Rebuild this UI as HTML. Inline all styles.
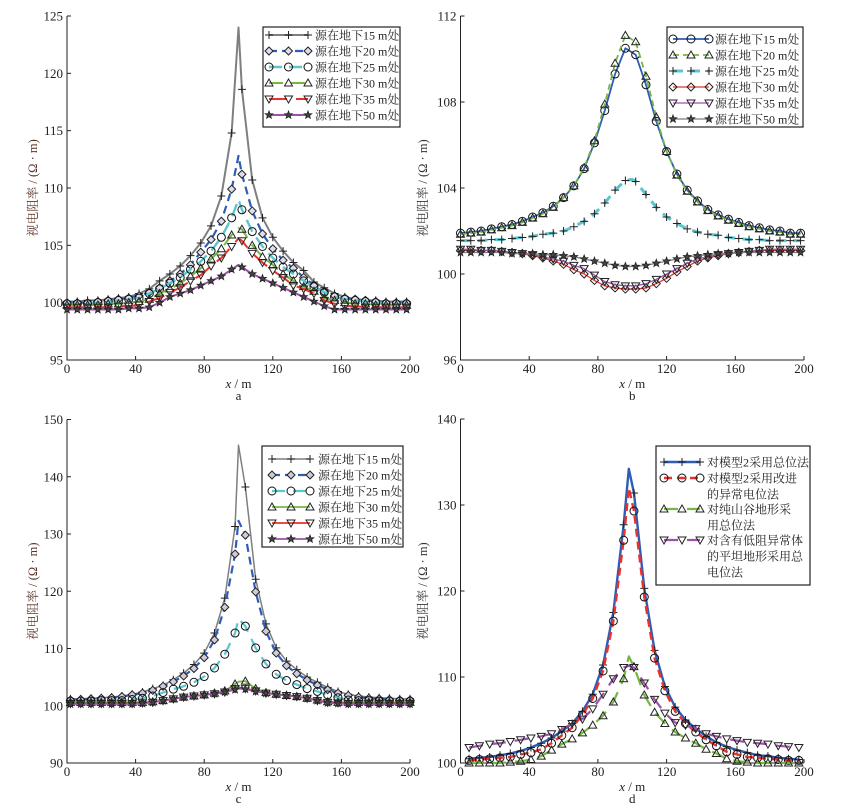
<!DOCTYPE html>
<html><head><meta charset="utf-8">
<style>
html,body{margin:0;padding:0;background:#fff;}
svg{display:block;}
text{font-family:"Liberation Serif","Noto Serif CJK SC",serif;}
</style></head>
<body>
<svg id="fig" width="845" height="809" viewBox="0 0 845 809" xmlns="http://www.w3.org/2000/svg"></svg>
<script>
// ---------- data ----------
const xA = [0,6,12,18,24,30,36,42,48,54,60,66,72,78,84,90,96,100,102,108,114,120,126,132,138,144,150,156,162,168,174,180,186,192,198];
const xB = xA;
const xC = [2,8,14,20,26,32,38,44,50,56,62,68,74,80,86,92,98,100,104,110,116,122,128,134,140,146,152,158,164,170,176,182,188,194,200];
const xD = [5,11,17,23,29,35,41,47,53,59,65,71,77,83,89,95,98,101,107,113,119,125,131,137,143,149,155,161,167,173,179,185,191,197];
const peakIdxABC = 17, peakIdxD = 16;

const labelsABC = ["源在地下15 m处","源在地下20 m处","源在地下25 m处","源在地下30 m处","源在地下35 m处","源在地下50 m处"];
const labelsD = [["对模型2采用总位法"],["对模型2采用改进","的异常电位法"],["对纯山谷地形采","用总位法"],["对含有低阻异常体","的平坦地形采用总","电位法"]];

const a15 = [100.1,100.1,100.2,100.2,100.3,100.4,100.5,100.8,101.2,101.9,102.5,103.2,104.1,105.2,106.7,109.3,114.8,124,118.6,110.7,107.4,105.7,104.5,103.5,102.8,101.8,101.3,100.8,100.5,100.3,100.2,100.2,100.1,100.1,100.1];
const a20 = [100.0,100.0,100.0,100.1,100.2,100.3,100.4,100.6,100.9,101.3,101.9,102.5,103.3,104.4,105.5,107.1,109.9,112.8,111.2,108,106,104.7,103.7,103,102.2,101.5,100.9,100.6,100.4,100.3,100.2,100.1,100.0,100.0,100.0];
const a25 = [99.9,99.9,99.9,100.0,100.1,100.2,100.3,100.4,100.8,101.2,101.7,102.2,102.9,103.6,104.5,105.7,107.4,109,108.1,106.2,104.9,103.9,103.1,102.5,101.9,101.4,100.9,100.5,100.3,100.2,100.1,100.0,99.9,99.9,99.9];
const a30 = [99.8,99.8,99.8,99.8,99.9,99.9,100.0,100.1,100.3,100.8,101.2,101.7,102.3,103.0,103.8,104.7,105.9,106.5,106.4,105.0,104.0,103.3,102.5,101.9,101.4,101.0,100.4,100.2,100.0,99.9,99.9,99.8,99.8,99.8,99.8];
const a35 = [99.6,99.6,99.6,99.6,99.6,99.7,99.7,99.8,100.1,100.4,100.9,101.3,101.9,102.4,103.2,103.9,104.9,105.6,105.4,104.3,103.5,102.8,102.2,101.5,101.2,100.8,100.2,99.9,99.7,99.7,99.6,99.6,99.6,99.6,99.6];
const a50 = [99.4,99.4,99.4,99.4,99.4,99.4,99.5,99.5,99.6,100.0,100.5,100.8,101.1,101.5,101.9,102.3,102.9,103.3,103.1,102.5,102.1,101.7,101.3,100.9,100.5,100.1,99.7,99.4,99.4,99.4,99.4,99.4,99.4,99.4,99.4];

const b15 = [101.9,101.95,102.0,102.1,102.2,102.3,102.45,102.65,102.85,103.15,103.55,104.1,104.9,106.1,107.6,109.3,110.5,110.3,110.2,108.8,107.1,105.7,104.65,103.9,103.4,103.0,102.75,102.55,102.4,102.25,102.15,102.05,102.0,101.9,101.9];
const b20 = [101.85,101.9,101.95,102.05,102.15,102.25,102.4,102.6,102.8,103.1,103.55,104.1,104.95,106.2,107.9,109.8,111.1,110.9,110.8,109.2,107.3,105.7,104.6,103.85,103.35,102.95,102.7,102.5,102.35,102.2,102.1,102.0,101.95,101.85,101.85];
const b25 = [101.55,101.55,101.55,101.6,101.6,101.65,101.7,101.75,101.85,101.9,102.0,102.2,102.45,102.8,103.3,103.9,104.35,104.4,104.3,103.7,103.1,102.65,102.35,102.1,101.95,101.85,101.8,101.7,101.65,101.6,101.6,101.55,101.55,101.55,101.55];
const b30 = [101.1,101.1,101.1,101.1,101.05,101.0,100.95,100.85,100.75,100.6,100.45,100.2,100.0,99.7,99.45,99.35,99.3,99.3,99.3,99.35,99.55,99.8,100.1,100.35,100.6,100.75,100.85,100.95,101.0,101.05,101.1,101.1,101.1,101.1,101.1];
const b35 = [101.15,101.15,101.1,101.1,101.05,101.0,100.95,100.9,100.8,100.7,100.6,100.4,100.25,99.95,99.65,99.5,99.45,99.45,99.45,99.55,99.75,100.0,100.25,100.5,100.7,100.8,100.9,100.95,101.0,101.05,101.1,101.15,101.15,101.15,101.15];
const b50 = [101.0,101.0,101.0,101.0,101.0,100.95,100.95,100.95,100.9,100.9,100.85,100.8,100.7,100.6,100.5,100.4,100.35,100.35,100.35,100.4,100.5,100.6,100.7,100.8,100.85,100.9,100.95,100.95,101.0,101.0,101.0,101.0,101.0,101.0,101.0];

const c15 = [101.2,101.2,101.3,101.4,101.5,101.7,102.0,102.4,103.0,103.55,104.55,105.7,107.2,109.2,112.7,118.8,131.3,145.5,138.2,122.1,114.3,110.1,107.8,106.3,105.0,104.1,103.2,102.5,102.0,101.7,101.5,101.4,101.3,101.2,101.2];
const c20 = [101.0,101.1,101.2,101.3,101.4,101.6,101.9,102.2,102.7,103.4,104.2,105.2,106.5,108.4,111.5,117.2,126.5,132.3,129.8,119.9,113.0,109.2,107.0,105.6,104.5,103.6,102.8,102.2,101.8,101.5,101.3,101.2,101.1,101.0,101.0];
const c25 = [100.8,100.8,100.8,100.9,100.9,100.9,101.1,101.3,101.7,102.3,102.9,103.4,104.1,105.1,106.6,109.0,112.7,115.2,113.9,110.1,107.3,105.5,104.4,103.7,103.0,102.5,101.9,101.4,101.0,100.9,100.9,100.8,100.8,100.8,100.8];
const c30 = [100.6,100.6,100.6,100.6,100.6,100.6,100.6,100.6,100.7,100.9,101.2,101.5,101.7,101.9,102.2,102.6,103.8,104.2,104.3,103.0,102.3,102.0,101.8,101.6,101.3,101.0,100.7,100.6,100.6,100.6,100.6,100.6,100.6,100.6,100.6];
const c35 = [100.4,100.4,100.4,100.4,100.4,100.4,100.4,100.5,100.6,100.9,101.2,101.5,101.7,101.9,102.1,102.4,103.0,103.2,103.0,102.6,102.2,102.0,101.8,101.6,101.3,100.9,100.6,100.5,100.4,100.4,100.4,100.4,100.4,100.4,100.4];
const c50 = [100.3,100.3,100.3,100.3,100.3,100.3,100.3,100.4,100.6,100.9,101.2,101.5,101.7,101.9,102.1,102.4,102.8,103.0,102.9,102.5,102.2,102.0,101.8,101.6,101.3,100.9,100.5,100.4,100.3,100.3,100.3,100.3,100.3,100.3,100.3];

const d1 = [100.5,100.6,100.7,100.9,101.1,101.4,101.8,102.3,102.9,103.7,104.6,106.0,108.0,111.4,117.5,127.7,134.2,131.4,120.3,113.1,108.9,106.5,105.0,104.0,103.1,102.4,101.9,101.5,101.2,100.9,100.8,100.6,100.5,100.4];
const d2 = [100.3,100.4,100.5,100.6,100.7,101.0,101.2,101.6,102.3,103.2,104.1,105.6,107.5,110.7,116.5,125.9,132.0,129.3,119.3,112.2,108.4,106.0,104.6,103.6,102.7,102.0,101.3,101.0,100.7,100.6,100.5,100.4,100.3,100.3];
const d3 = [100.0,100.0,100.0,100.0,100.1,100.2,100.4,100.8,101.5,102.2,102.8,103.5,104.4,105.5,107.1,109.8,112.4,111.2,107.9,105.9,104.6,103.6,102.9,102.3,101.6,101.1,100.5,100.2,100.1,100.0,100.0,100.0,100.0,100.0];
const d4 = [101.8,102.0,102.2,102.3,102.5,102.7,102.9,103.1,103.4,103.9,104.6,105.1,106.3,108.0,109.8,111.1,111.3,111.1,109.3,107.4,105.8,104.7,104.4,104.0,103.4,103.1,102.8,102.6,102.4,102.3,102.2,102.0,101.9,101.8];

const ticksXAll = [0,40,80,120,160,200];
const ticksYA = [95,100,105,110,115,120,125];
const ticksYB = [96,100,104,108,112];
const ticksYC = [90,100,110,120,130,140,150];
const ticksYD = [100,110,120,130,140];

// ---------- drawing ----------
const NS = "http://www.w3.org/2000/svg";
const svg = document.getElementById('fig');
function mk(tag, attrs, parent){
  const e = document.createElementNS(NS, tag);
  for (const k in attrs) e.setAttribute(k, attrs[k]);
  (parent||svg).appendChild(e);
  return e;
}
const C = {gray:'#7f7f7f', blue:'#2f5db5', cyan:'#5cc6cf', green:'#74b843', red:'#e8322b', purple:'#9d52a9', dgray:'#666'};

function marker(g, type, x, y, fill){
  const r = 4;
  let e;
  if (type === '+') {
    e = mk('path', {d:`M${x-r} ${y}H${x+r}M${x} ${y-r}V${y+r}`, stroke:'#222', 'stroke-width':1, fill:'none'}, g);
  } else if (type === 'o') {
    e = mk('circle', {cx:x, cy:y, r:r, stroke:'#111', 'stroke-width':1, fill:fill||'none'}, g);
  } else if (type === 'd') {
    e = mk('path', {d:`M${x} ${y-r}L${x+r} ${y}L${x} ${y+r}L${x-r} ${y}Z`, stroke:'#222', 'stroke-width':1, fill:fill||'none'}, g);
  } else if (type === '^') {
    e = mk('path', {d:`M${x} ${y-r}L${x+r} ${y+r*0.75}L${x-r} ${y+r*0.75}Z`, stroke:'#222', 'stroke-width':1, fill:fill||'none'}, g);
  } else if (type === 'v') {
    e = mk('path', {d:`M${x} ${y+r}L${x+r} ${y-r*0.75}L${x-r} ${y-r*0.75}Z`, stroke:'#222', 'stroke-width':1, fill:fill||'none'}, g);
  } else if (type === '*') {
    let p = '';
    for (let i=0;i<10;i++){ const a = -Math.PI/2 + i*Math.PI/5; const rr = i%2?r*0.42:r; p += (i?'L':'M')+(x+rr*Math.cos(a)).toFixed(2)+' '+(y+rr*Math.sin(a)).toFixed(2); }
    e = mk('path', {d:p+'Z', stroke:'#222', 'stroke-width':0.8, fill:fill||'#444'}, g);
  }
  
  
  return e;
}

function panel(cfg){
  const g = mk('g', {});
  
  
  const sx = v => cfg.x0 + (v - 0) / 200 * (cfg.x1 - cfg.x0);
  const sy = v => cfg.yB - (v - cfg.ymin) / (cfg.ymax - cfg.ymin) * (cfg.yB - cfg.yT);
  const ax = mk('path', {d:`M${cfg.x0} ${cfg.yT}V${cfg.yB}H${cfg.x1}`, stroke:'#222', 'stroke-width':1, fill:'none'}, g);
  
  
  cfg.ty.forEach(v => {
    const y = sy(v);
    mk('path', {d:`M${cfg.x0} ${y}h4`, stroke:'#222', 'stroke-width':1}, g);
    const t = mk('text', {x:cfg.x0-4, y:y+4.5, 'text-anchor':'end', 'font-size':13, fill:'#222'}, g);
    t.textContent = v;
    
    
  });
  ticksXAll.forEach(v => {
    const x = sx(v);
    mk('path', {d:`M${x} ${cfg.yB}v-4`, stroke:'#222', 'stroke-width':1}, g);
    const t = mk('text', {x:x, y:cfg.yB+13, 'text-anchor':'middle', 'font-size':13, fill:'#222'}, g);
    t.textContent = v;
    
    
  });
  const xt = mk('text', {x:(cfg.x0+cfg.x1)/2, y:cfg.yB+28, 'text-anchor':'middle', 'font-size':13, fill:'#222'}, g);
  xt.innerHTML = '<tspan font-style="italic">x</tspan> / m';
  
  
  const pl = mk('text', {x:(cfg.x0+cfg.x1)/2, y:cfg.yB+40, 'text-anchor':'middle', 'font-size':13, fill:'#222'}, g);
  pl.textContent = cfg.id;
  
  
  const yc = (cfg.yT+cfg.yB)/2;
  const yt = mk('text', {x:cfg.ytx, y:yc, 'text-anchor':'middle', 'font-size':12.5, fill:cfg.ytColor, transform:`rotate(-90 ${cfg.ytx} ${yc})`}, g);
  yt.textContent = '视电阻率 / (Ω · m)';
  
  
  cfg.series.forEach(s => {
    const sg = mk('g', {}, g);
    
    
    let d = '';
    s.vals.forEach((v,i) => { d += (i?'L':'M') + sx(cfg.xs[i]).toFixed(2) + ' ' + sy(v).toFixed(2); });
    const line = mk('path', {d:d, stroke:s.color, 'stroke-width':s.w||1.8, fill:'none', 'stroke-dasharray':s.dash||'none', 'stroke-linejoin':'round'}, sg);
    
    
    s.vals.forEach((v,i) => { if (i !== cfg.peak) marker(sg, s.m, sx(cfg.xs[i]), sy(v), s.mf); });
  });
  const L = cfg.leg;
  const lg = mk('g', {}, g);
  
  
  mk('rect', {x:L.x, y:L.y, width:L.w, height:L.h, fill:'#fff', stroke:'#222', 'stroke-width':1.2}, lg);
  cfg.series.forEach((s,i) => {
    const ry = L.rows[i];
    const eg = mk('g', {}, lg);
    
    
    mk('path', {d:`M${L.sx0} ${ry}H${L.sx1}`, stroke:s.color, 'stroke-width':s.w||1.8, 'stroke-dasharray':s.dash||'none'}, eg);
    [L.sx0, (L.sx0+L.sx1)/2, L.sx1].forEach(x => marker(eg, s.m, x, ry, s.mf));
    const lab = cfg.labels[i];
    const lines = Array.isArray(lab) ? lab : [lab];
    lines.forEach((tx,j) => {
      const t = mk('text', {x:L.tx, y:ry+4.5+j*16, 'font-size':L.fs, fill:'#222', textLength:L.tl ? (L.tl*tx.length) : null}, eg);
      if (!L.tl) t.removeAttribute('textLength');
      t.textContent = tx;
      
      
    });
  });
}

panel({id:'a', x0:67, x1:410, yT:16, yB:360, ymin:95, ymax:125, ty:ticksYA, xs:xA, peak:peakIdxABC, ytx:37, ytColor:'#5b3326', labels:labelsABC,
  leg:{x:263, y:27, w:137, h:100, rows:[35,51,67,83,99,115], sx0:269, sx1:308, tx:315, fs:12},
  series:[
    {key:'15m', vals:a15, color:C.gray, m:'+', w:2},
    {key:'20m', vals:a20, color:C.blue, m:'d', dash:'8 5', w:2.2, mf:'#dde'},
    {key:'25m', vals:a25, color:C.cyan, m:'o', dash:'13 7', w:2.4},
    {key:'30m', vals:a30, color:C.green, m:'^', dash:'14 8', w:2},
    {key:'35m', vals:a35, color:C.red, m:'v', dash:'18 9', w:2},
    {key:'50m', vals:a50, color:C.purple, m:'*', w:2}
  ]});
panel({id:'b', x0:460.5, x1:804, yT:16, yB:360, ymin:96, ymax:112, ty:ticksYB, xs:xB, peak:peakIdxABC, ytx:427, ytColor:'#333', labels:labelsABC,
  leg:{x:667, y:27, w:136, h:100, rows:[39,55,71,87,103,119], sx0:673, sx1:709, tx:715, fs:12},
  series:[
    {key:'15m', vals:b15, color:C.blue, m:'o', w:1.8},
    {key:'20m', vals:b20, color:C.green, m:'^', dash:'6 4', w:1.8},
    {key:'25m', vals:b25, color:C.cyan, m:'+', dash:'10 7', w:3},
    {key:'30m', vals:b30, color:C.red, m:'d', w:1.3},
    {key:'35m', vals:b35, color:C.purple, m:'v', w:1.3},
    {key:'50m', vals:b50, color:C.gray, m:'*', w:1.3}
  ]});
panel({id:'c', x0:67, x1:410, yT:419.5, yB:763, ymin:90, ymax:150, ty:ticksYC, xs:xC, peak:peakIdxABC, ytx:37, ytColor:'#5b3326', labels:labelsABC,
  leg:{x:262, y:446, w:141, h:101, rows:[459,475,491,507,523,539], sx0:272, sx1:310, tx:318, fs:12},
  series:[
    {key:'15m', vals:c15, color:C.gray, m:'+', w:1.5},
    {key:'20m', vals:c20, color:C.blue, m:'d', dash:'8 5', w:2.2, mf:'#ccd'},
    {key:'25m', vals:c25, color:C.cyan, m:'o', dash:'13 8', w:2.2},
    {key:'30m', vals:c30, color:C.green, m:'^', w:1.8},
    {key:'35m', vals:c35, color:C.red, m:'v', w:1.8},
    {key:'50m', vals:c50, color:C.purple, m:'*', w:1.8}
  ]});
panel({id:'d', x0:460.5, x1:804, yT:419, yB:763, ymin:100, ymax:140, ty:ticksYD, xs:xD, peak:peakIdxD, ytx:427, ytColor:'#333', labels:labelsD,
  leg:{x:656, y:446, w:154, h:139, rows:[462,478,509,540], sx0:664, sx1:700, tx:707, fs:12},
  series:[
    {key:'model2-total', vals:d1, color:C.blue, m:'+', w:2.4},
    {key:'model2-anomaly', vals:d2, color:C.red, m:'o', dash:'8 5', w:2.4},
    {key:'valley-total', vals:d3, color:C.green, m:'^', dash:'14 9', w:2.2},
    {key:'flat-lowres', vals:d4, color:C.purple, m:'v', dash:'14 9', w:2.2}
  ]});
</script>
</body></html>
